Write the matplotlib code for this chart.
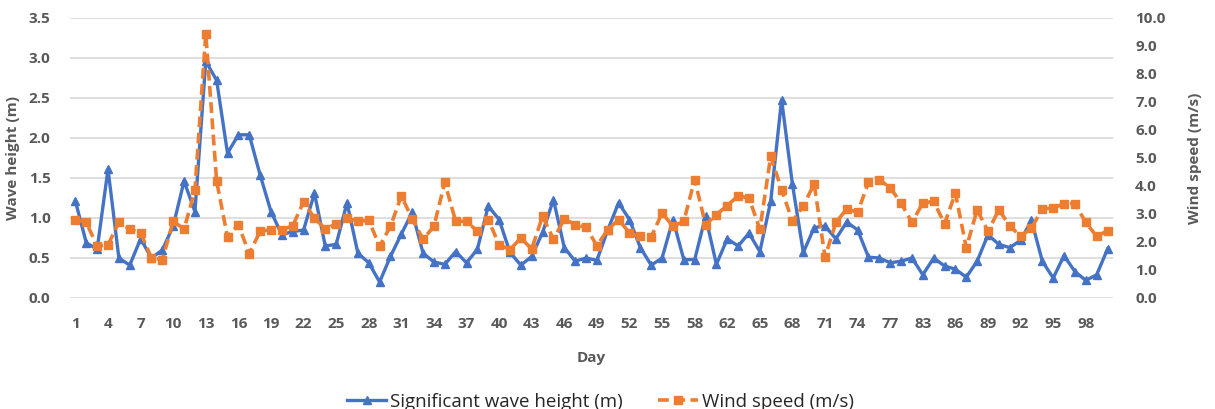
import matplotlib.pyplot as plt
import numpy as np

# Days recorded (a few days are missing from the record)
days = list(range(1, 61)) + list(range(62, 80)) + list(range(83, 101))

wave_height = [1.21, 0.69, 0.61, 1.61, 0.50, 0.41, 0.74, 0.50, 0.60, 0.90,
               1.46, 1.08, 2.96, 2.72, 1.81, 2.04, 2.04, 1.54, 1.08, 0.79,
               0.83, 0.85, 1.31, 0.65, 0.67, 1.19, 0.56, 0.44, 0.20, 0.52,
               0.80, 1.07, 0.56, 0.45, 0.42, 0.58, 0.44, 0.61, 1.15, 0.98,
               0.57, 0.41, 0.52, 0.82, 1.23, 0.63, 0.46, 0.50, 0.47, 0.85,
               1.19, 0.98, 0.63, 0.41, 0.50, 0.98, 0.48, 0.48, 1.02, 0.42,
               0.74, 0.65, 0.81, 0.58, 1.21, 2.48, 1.42, 0.57, 0.88, 0.90,
               0.74, 0.95, 0.85, 0.51, 0.50, 0.44, 0.46, 0.50, 0.29, 0.50,
               0.40, 0.36, 0.26, 0.46, 0.79, 0.67, 0.63, 0.72, 0.97, 0.46,
               0.25, 0.53, 0.33, 0.22, 0.29, 0.61]

wind_speed = [2.80, 2.70, 1.85, 1.90, 2.70, 2.46, 2.32, 1.43, 1.37, 2.74,
              2.46, 3.85, 9.44, 4.17, 2.18, 2.62, 1.58, 2.38, 2.44, 2.44,
              2.58, 3.43, 2.86, 2.46, 2.65, 2.86, 2.74, 2.77, 1.85, 2.56,
              3.65, 2.82, 2.10, 2.56, 4.13, 2.74, 2.74, 2.38, 2.80, 1.90,
              1.73, 2.14, 1.75, 2.92, 2.10, 2.82, 2.62, 2.52, 1.87, 2.44,
              2.80, 2.32, 2.20, 2.18, 3.04, 2.56, 2.74, 4.23, 2.62, 2.98,
              3.30, 3.65, 3.57, 2.46, 5.06, 3.87, 2.74, 3.30, 4.07, 1.46,
              2.70, 3.18, 3.06, 4.13, 4.23, 3.93, 3.39, 2.70, 3.39, 3.45,
              2.65, 3.75, 1.79, 3.15, 2.38, 3.15, 2.58, 2.20, 2.50, 3.18,
              3.21, 3.37, 3.37, 2.70, 2.20, 2.40]

wave_ticks = np.arange(0, 3.51, 0.5)
wind_ticks = np.arange(0, 10.01, 1.0)

blue = '#4472C4'
orange = '#ED7D31'
grey = '#595959'
family = 'Open Sans'
font = {'family': family, 'weight': 'bold', 'color': grey}

fig = plt.figure(figsize=(12.15, 4.09), dpi=100)
ax = fig.add_axes([0.0576, 0.2714, 0.8584, 0.6846])
ax2 = ax.twinx()

x = np.arange(len(days))
ax.plot(x, wave_height, color=blue, lw=2.4, marker='^', ms=6,
        label='Significant wave height (m)', zorder=3)
ax2.plot(x, wind_speed, color=orange, lw=2.6, ls=(0, (3, 1.5)), marker='s', ms=6,
         label='Wind speed (m/s)', zorder=3)

ax.set_xlim(-0.5, len(days) - 0.5)
ax.set_ylim(0, 3.5)
ax2.set_ylim(0, 10)
ax.set_yticks(wave_ticks)
ax2.set_yticks(wind_ticks)
ax.grid(axis='y', color='#D9D9D9', lw=1.2)
ax.set_axisbelow(True)

ax.set_xticks(x[::3])
ax.set_xticklabels([str(d) for d in days[::3]])
ax.set_yticklabels(['{:.1f}'.format(v) for v in wave_ticks])
ax2.set_yticklabels(['{:.1f}'.format(v) for v in wind_ticks])

for a in (ax, ax2):
    for s in a.spines.values():
        s.set_visible(False)
    a.tick_params(length=0, labelsize=11, labelcolor=grey)
    for lab in a.get_xticklabels() + a.get_yticklabels():
        lab.set_fontfamily(family)
        lab.set_fontweight('bold')
ax.tick_params(axis='x', pad=14)
ax.tick_params(axis='y', pad=14)
ax2.tick_params(axis='y', pad=16)

ax.set_xlabel('Day', fontsize=11, labelpad=14, **font)
ax.set_ylabel('Wave height (m)', fontsize=11, labelpad=6, **font)
ax2.set_ylabel('Wind speed (m/s)', fontsize=11, labelpad=16, **font)

h1, l1 = ax.get_legend_handles_labels()
h2, l2 = ax2.get_legend_handles_labels()
fig.legend(h1 + h2, l1 + l2, loc='upper center', bbox_to_anchor=(0.494, 0.062), ncol=2,
           frameon=False, prop={'family': family, 'size': 13.5}, labelcolor='#262626',
           columnspacing=1.9, handlelength=2.1, handletextpad=0.2, borderpad=0.0)

fig.savefig('out.png', dpi=100)
